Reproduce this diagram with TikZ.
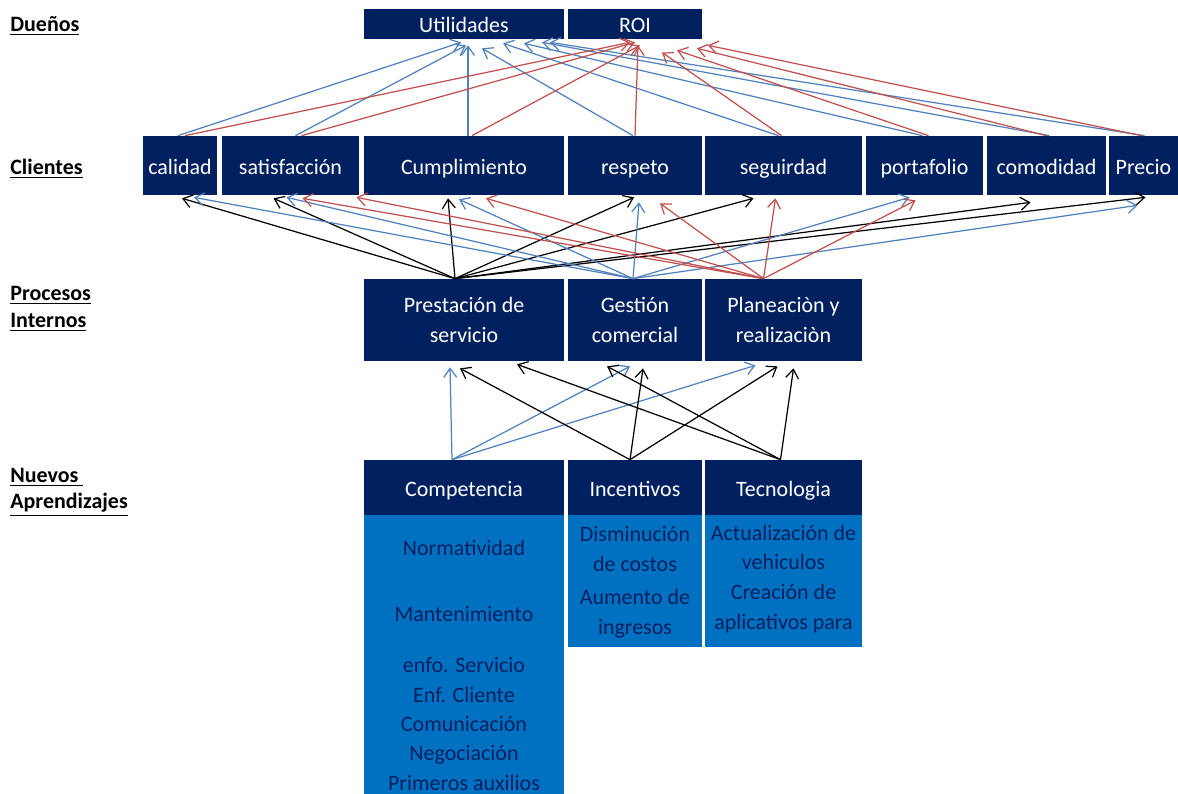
\documentclass[tikz,border=0pt]{standalone}
\usepackage{fontspec}
\setmainfont{Carlito}
\usetikzlibrary{arrows.meta}
\definecolor{navy}{RGB}{0,32,96}
\definecolor{midblue}{RGB}{0,112,192}
\definecolor{lineblue}{RGB}{79,129,189}
\definecolor{linered}{RGB}{192,80,77}

\begin{document}
\begin{tikzpicture}[x=0.2mm,y=-0.2mm,>={Straight Barb[length=1.8mm,width=2.6mm]},
  cell/.style={fill=navy,text=white,inner sep=0pt,align=center,font=\fontsize{12.5}{17}\selectfont},
  onecell/.style={cell,text height=11pt,text depth=1pt},
  bodybox/.style={fill=midblue,inner sep=0pt},
  bodytxt/.style={text=navy,inner sep=0pt,align=center,font=\fontsize{12.5}{17}\selectfont},
  lbl/.style={anchor=base west,inner sep=0pt,font=\fontsize{12.5}{15}\selectfont\bfseries},
  lnb/.style={lineblue,line width=0.7pt,->},
  lnr/.style={linered,line width=0.7pt,->},
  lnk/.style={black,line width=0.7pt,->}]
  \useasboundingbox[fill=white](0,0)rectangle(1178,794);
  \node[lbl](tdue)at(10,32){\underline{Dueños}};
  \node[lbl](tcli)at(10,175){\underline{Clientes}};
  \node[lbl](tpro)at(10,301){\underline{Procesos}};
  \node[lbl](tint)at(10,328){\underline{Internos}};
  \node[lbl](tnue)at(10,483){\underline{Nuevos }};
  \node[lbl](tapr)at(10,509){\underline{Aprendizajes}};

  \node[onecell,minimum width=40mm,minimum height=6mm](util)at(464,24){Utilidades};
  \node[onecell,minimum width=26.8mm,minimum height=6mm](roi)at(635,24){ROI};
  \foreach \n/\x/\w/\t in {cal/180/14.8/calidad,sat/290.5/27.4/satisfacción,cump/464/40/Cumplimiento,resp/635/26.8/respeto,seg/783.5/31.4/seguirdad,port/924.5/23.4/portafolio,como/1046.5/23.8/comodidad,prec/1143.5/13.8/Precio}
  {
    \node[onecell,minimum width=\w mm,minimum height=11.8mm](\n)at(\x,165.5){\t};
  }
  \node[cell,minimum width=40mm,minimum height=16.4mm](pres)at(464,320){Prestación de\\servicio};
  \node[cell,minimum width=26.8mm,minimum height=16.4mm](gest)at(635,320){Gestión\\comercial};
  \node[cell,minimum width=31.4mm,minimum height=16.4mm](plan)at(783.5,320){Planeaciòn y\\realizaciòn};

  \node[onecell,minimum width=40mm,minimum height=11mm](comp)at(464,487.5){Competencia};
  \node[onecell,minimum width=26.8mm,minimum height=11mm](inc)at(635,487.5){Incentivos};
  \node[onecell,minimum width=31.4mm,minimum height=11mm](tec)at(783.5,487.5){Tecnologia};
  \node[bodybox,minimum width=40mm,minimum height=55.8mm](compb)at(464,654.5){};
  \node[bodybox,minimum width=26.8mm,minimum height=26.4mm](incb)at(635,581){};
  \node[bodybox,minimum width=31.4mm,minimum height=26.4mm](tecb)at(783.5,581){};
  \node[bodytxt](norm)at(464,548){Normatividad};
  \node[bodytxt](mant)at(464,614){Mantenimiento};
  \node[bodytxt,font=\fontsize{12.5}{16.7}\selectfont](enfo)at(464,724){enfo. Servicio\\Enf. Cliente\\Comunicación\\Negociación\\Primeros auxilios};
  \node[bodytxt](dism)at(635,549){Disminución\\de costos};
  \node[bodytxt](aume)at(635,614){Aumento de\\ingresos};
  \node[bodytxt](actu)at(783.5,579){Actualización de\\vehiculos\\Creación de\\aplicativos para};

  % clientes -> duenos
  \foreach \s/\a/\b/\c in {cal/-2/-3/3,sat/5/2/6,cump/4/4/6,resp/-2/18/9,seg/-5/39/4,port/-2/60/4,como/3/78/3,prec/1/86/3}
    \draw[lnb]([shift={(\a,0)}]\s.north)--([shift={(\b,\c)}]util.south);
  \foreach \s/\a/\b/\c in {cal/5/-5/3,sat/11/0/3,cump/8/5/6,resp/0/3/6,seg/-2/27/13,port/4/42/11,como/0/62/9,prec/-2/73/6}
    \draw[lnr]([shift={(\a,0)}]\s.north)--([shift={(\b,\c)}]roi.south);

  % procesos -> clientes
  \foreach \t/\b/\c in {cal/2/3,sat/-17/3,cump/-16/3,resp/-1/2,seg/-30/3,como/-16/7,prec/2/2}
    \draw[lnk]([shift={(-9,0)}]pres.north)--([shift={(\b,\c)}]\t.south);
  \foreach \t/\b/\c in {cal/14/2,sat/-4/2,cump/-5/4,resp/4/7,port/-15/2,prec/-6/10}
    \draw[lnb]([shift={(-2,0)}]gest.north)--([shift={(\b,\c)}]\t.south);
  \foreach \t/\b/\c in {sat/12/3,sat/66/2,cump/22/3,resp/25/8,seg/-8/3,port/-9/5}
    \draw[lnr]([shift={(-20,0)}]plan.north)--([shift={(\b,\c)}]\t.south);

  % aprendizajes -> procesos
  \foreach \t/\b/\c in {pres/-14/6,gest/-5/5,plan/-28/4}
    \draw[lnb]([shift={(-12,0)}]comp.north)--([shift={(\b,\c)}]\t.south);
  \foreach \t/\b/\c in {pres/-4/7,gest/8/7,plan/-6/5}
    \draw[lnk]([shift={(-5,0)}]inc.north)--([shift={(\b,\c)}]\t.south);
  \foreach \t/\b/\c in {pres/53/3,gest/-28/5,plan/10/7}
    \draw[lnk]([shift={(-3,0)}]tec.north)--([shift={(\b,\c)}]\t.south);
\end{tikzpicture}
\end{document}
